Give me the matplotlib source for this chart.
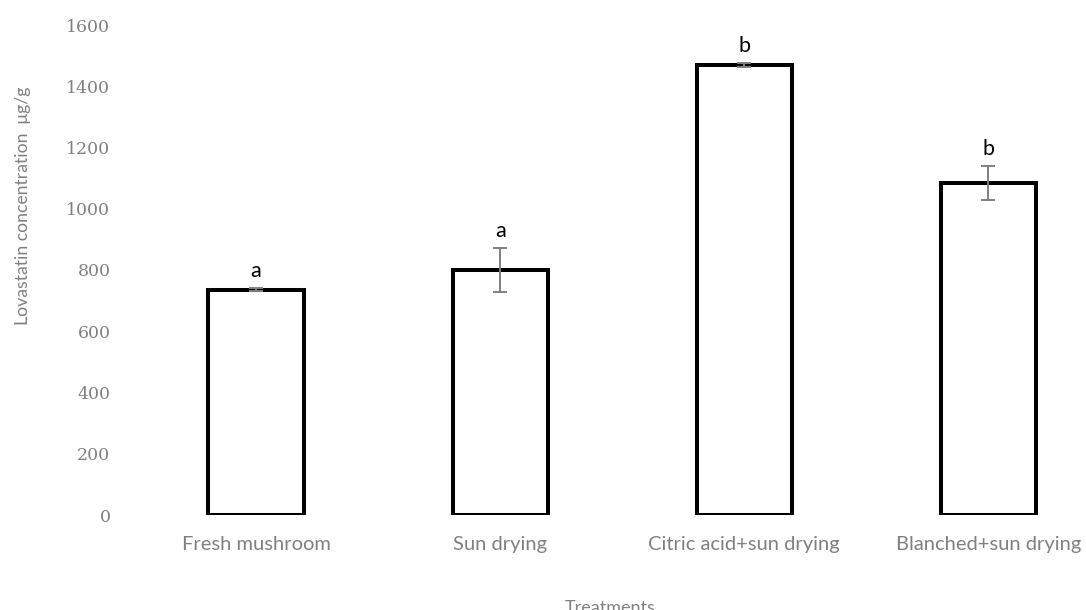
import matplotlib
matplotlib.use("Agg")
import matplotlib.pyplot as plt

# Data
treatments = ["Fresh mushroom", "Sun drying", "Citric acid+sun drying", "Blanched+sun drying"]
lovastatin = [735, 800, 1470, 1085]
std_err = [5, 72, 6, 55]
letters = ["a", "a", "b", "b"]
y_ticks = [0, 200, 400, 600, 800, 1000, 1200, 1400, 1600]

grey = "#808080"

fig = plt.figure(figsize=(10.86, 6.10), dpi=100)
ax = fig.add_axes([134 / 1086, 1 - 515 / 610, 1 - 134 / 1086, 490 / 610])

x = range(len(treatments))
ax.bar(x, lovastatin, width=0.39, color="white", edgecolor="black", linewidth=2.9, zorder=2)
ax.errorbar(x, lovastatin, yerr=std_err, fmt="none", ecolor=grey, elinewidth=1.4,
            capsize=5, capthick=1.4, zorder=3)

# Significance letters above the error bars
for xi, val, err, lab in zip(x, lovastatin, std_err, letters):
    ax.annotate(lab, (xi, val + err), xytext=(0, 5), textcoords="offset points",
                ha="center", va="bottom", fontsize=15.5, family="Lato", color="black")

ax.set_xlim(-0.5, 3.4)
ax.set_ylim(0, 1600)
ax.set_yticks(y_ticks)
ax.set_yticklabels([str(v) for v in y_ticks], family="DejaVu Serif", fontsize=12.5, color=grey)
ax.set_xticks(list(x))
ax.set_xticklabels(treatments, family="Lato", fontsize=14.5, color=grey)
ax.tick_params(axis="both", length=0)
ax.tick_params(axis="y", pad=17)
ax.tick_params(axis="x", pad=15)

for s in ax.spines.values():
    s.set_visible(False)

ax.set_ylabel("Lovastatin concentration  \u03bcg/g", family="Lato", fontsize=12.7, color=grey)
ax.yaxis.set_label_coords(-0.108, 0.63)
ax.set_xlabel("Treatments", family="Lato", fontsize=13, color=grey, labelpad=34)

fig.savefig("out.png", dpi=100)
